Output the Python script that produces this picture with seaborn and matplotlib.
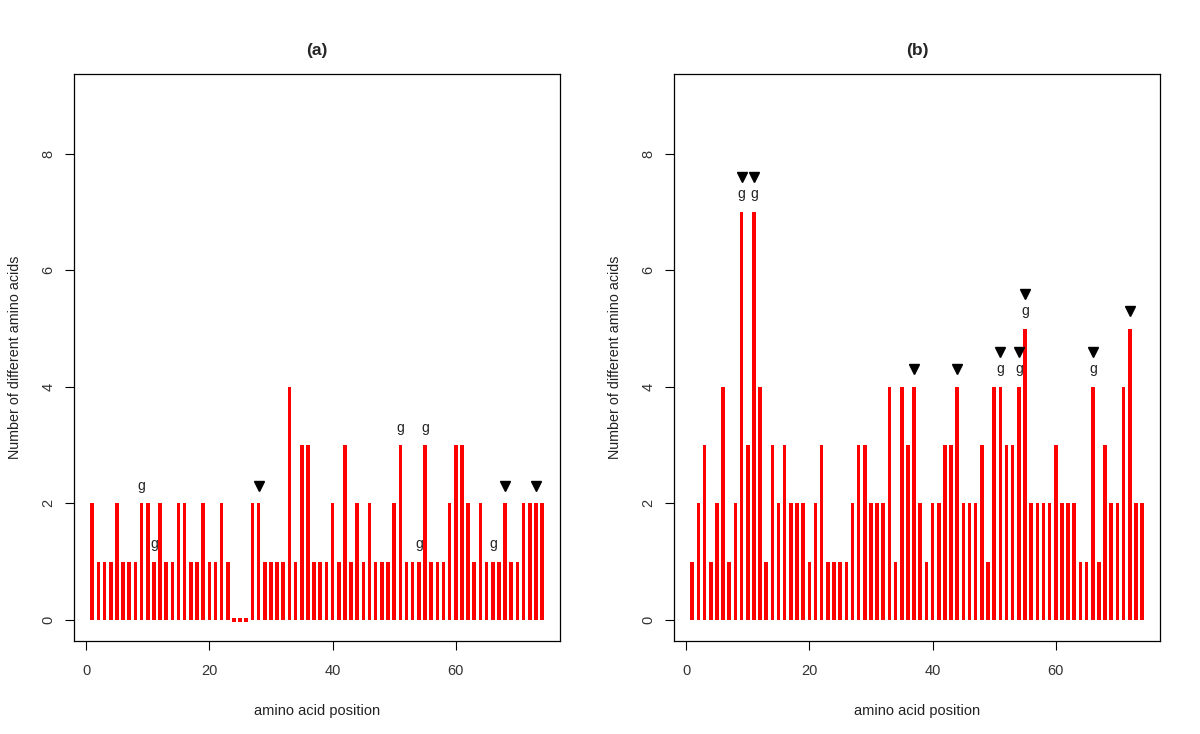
import numpy as np
import pandas as pd
import matplotlib
matplotlib.use("Agg")
import matplotlib.pyplot as plt
import seaborn as sns

# amino acid positions 1..74
positions = list(range(1, 75))

# panel (a): number of different amino acids per position
counts_a = [2, 1, 1, 1, 2, 1, 1, 1, 2, 2, 1, 2, 1, 1, 2, 2, 1, 1, 2, 1,
            1, 2, 1, 0, 0, 0, 2, 2, 1, 1, 1, 1, 4, 1, 3, 3, 1, 1, 1, 2,
            1, 3, 1, 2, 1, 2, 1, 1, 1, 2, 3, 1, 1, 1, 3, 1, 1, 1, 2, 3,
            3, 2, 1, 2, 1, 1, 1, 2, 1, 1, 2, 2, 2, 2]

# panel (b)
counts_b = [1, 2, 3, 1, 2, 4, 1, 2, 7, 3, 7, 4, 1, 3, 2, 3, 2, 2, 2, 1,
            2, 3, 1, 1, 1, 1, 2, 3, 3, 2, 2, 2, 4, 1, 4, 3, 4, 2, 1, 2,
            2, 3, 3, 4, 2, 2, 2, 3, 1, 4, 4, 3, 3, 4, 5, 2, 2, 2, 2, 3,
            2, 2, 2, 1, 1, 4, 1, 3, 2, 2, 4, 5, 2, 2]

# marked positions
g_pos_a = [9, 11, 51, 54, 55, 66]
tri_pos_a = [28, 68, 73]
g_pos_b = [9, 11, 51, 54, 55, 66]
tri_pos_b = [9, 11, 37, 44, 51, 54, 55, 66, 72]

sns.set_style("ticks")
plt.rcParams['font.family'] = ['Liberation Sans', 'DejaVu Sans']
plt.rcParams['axes.linewidth'] = 0.9

fig = plt.figure(figsize=(12, 7.34), dpi=100)
ax_a = fig.add_axes([0.0619, 0.1267, 0.4048, 0.772])
ax_b = fig.add_axes([0.5619, 0.1267, 0.4048, 0.772])


def draw_panel(ax, counts, g_pos, tri_pos, title):
    df = pd.DataFrame({"pos": positions, "n": counts})
    sns.barplot(data=df, x="pos", y="n", native_scale=True, width=0.58,
                color="#ff0000", saturation=1, linewidth=0, errorbar=None, ax=ax)
    zeros = df[df["n"] == 0]
    if len(zeros):
        sns.scatterplot(data=zeros, x="pos", y="n", marker="s", s=10,
                        color="#ff0000", linewidth=0, ax=ax, zorder=3)
    for p in g_pos:
        v = counts[p - 1]
        ax.text(p, v + 0.3, "g", ha="center", va="center", fontsize=10, color="#222222")
    for p in tri_pos:
        v = counts[p - 1]
        off = 0.6 if p in g_pos else 0.3
        ax.plot(p, v + off, marker="v", color="black", markersize=6.5, linestyle="none")

    ax.set_xlim(-1.92, 76.92)
    ax.set_ylim(-0.36, 9.36)
    ax.set_xticks([0, 20, 40, 60])
    ax.set_yticks([0, 2, 4, 6, 8])
    ax.set_yticklabels(["0", "2", "4", "6", "8"], rotation=90, va="center")
    ax.tick_params(axis="both", direction="out", length=6.5, width=0.8,
                   labelsize=10.5, colors="black", labelcolor="#333333")
    ax.tick_params(axis="x", pad=10)
    ax.tick_params(axis="y", pad=7)
    for s in ax.spines.values():
        s.set_visible(True)
        s.set_color("black")
    ax.set_xlabel("amino acid position", fontsize=10.5, labelpad=19, color="#222222")
    ax.set_ylabel("Number of different amino acids", fontsize=10.3, labelpad=14, color="#222222")
    ax.set_title(title, fontsize=12.5, fontweight="bold", pad=14)


draw_panel(ax_a, counts_a, g_pos_a, tri_pos_a, "(a)")
draw_panel(ax_b, counts_b, g_pos_b, tri_pos_b, "(b)")

fig.savefig("out.png", dpi=100)
